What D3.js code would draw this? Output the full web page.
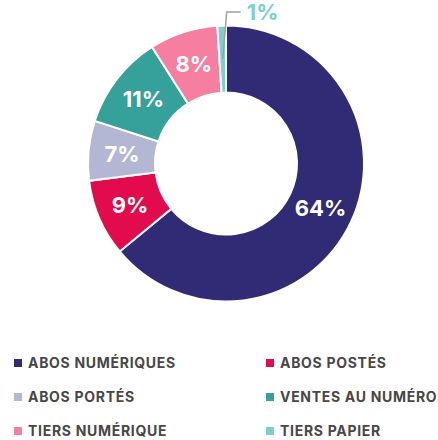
<!DOCTYPE html>
<html>
<head>
<meta charset="utf-8">
<script src="https://cdn.jsdelivr.net/npm/d3@7"></script>
<style>
  html, body { margin: 0; padding: 0; background: #fff; }
  svg { display: block; font-family: "Inter", "Lato", sans-serif; }
</style>
</head>
<body>
<div id="chart"></div>
<script>
// Donnees
const categories = ['ABOS NUMÉRIQUES', 'ABOS POSTÉS', 'ABOS PORTÉS', 'VENTES AU NUMÉRO', 'TIERS NUMÉRIQUE', 'TIERS PAPIER'];
const values = [64, 9, 7, 11, 8, 1];
const colors = ['#312a74', '#e20b4d', '#b4b7d3', '#35a19a', '#f67ea1', '#7ccfce'];

const width = 438;
const height = 440;
const cx = 226, cy = 163.5;
const outerR = 138, innerR = 71;

const svg = d3.select('#chart')
    .append('svg')
    .attr('width', width)
    .attr('height', height);

const pie = d3.pie().sort(null).value(d => d);
const arcs = pie(values);

const arc = d3.arc().innerRadius(innerR).outerRadius(outerR);
const labelArc = d3.arc().innerRadius((innerR + outerR) / 2).outerRadius((innerR + outerR) / 2);

const g = svg.append('g').attr('transform', `translate(${cx}, ${cy})`);

g.selectAll('path')
    .data(arcs)
    .enter()
    .append('path')
    .attr('d', arc)
    .attr('fill', (d, i) => colors[i])
    .attr('stroke', '#fff')
    .attr('stroke-width', 2);

// Etiquettes dans les parts (sauf la petite)
g.selectAll('text.pct')
    .data(arcs.filter(d => d.value >= 5))
    .enter()
    .append('text')
    .attr('class', 'pct')
    .attr('transform', d => `translate(${labelArc.centroid(d)})`)
    .attr('text-anchor', 'middle')
    .attr('dy', '0.36em')
    .attr('fill', '#fff')
    .style('font-size', '22px')
    .style('font-weight', 700)
    .text(d => d.value + '%');

// Petite part : ligne de rappel + etiquette a l'exterieur
const small = arcs.filter(d => d.value < 5);
small.forEach(d => {
    const [sx, sy] = labelArc.centroid(d);
    const ey = 12 - cy;
    const ex = sx + 4;
    g.append('polyline')
        .attr('points', `${sx},${sy} ${ex},${ey} ${ex + 14},${ey}`)
        .attr('fill', 'none')
        .attr('stroke', '#a0a0a0')
        .attr('stroke-width', 1.5);
    g.append('text')
        .attr('x', ex + 20)
        .attr('y', ey)
        .attr('dy', '0.36em')
        .attr('fill', colors[d.index])
        .style('font-size', '22px')
        .style('font-weight', 700)
        .text(d.value + '%');
});

// Legende en deux colonnes
const legend = svg.append('g');
const items = legend.selectAll('g')
    .data(categories)
    .enter()
    .append('g')
    .attr('transform', (d, i) => `translate(${i % 2 === 0 ? 14 : 266}, ${363 + Math.floor(i / 2) * 34})`);

items.append('rect')
    .attr('x', 0)
    .attr('y', -4)
    .attr('width', 8)
    .attr('height', 8)
    .attr('fill', (d, i) => colors[i]);

items.append('text')
    .attr('x', 14)
    .attr('y', 0)
    .attr('dy', '0.36em')
    .attr('fill', '#474747')
    .style('font-size', '14px')
    .style('font-weight', 700)
    .style('letter-spacing', '0.7px')
    .text(d => d);
</script>
</body>
</html>
